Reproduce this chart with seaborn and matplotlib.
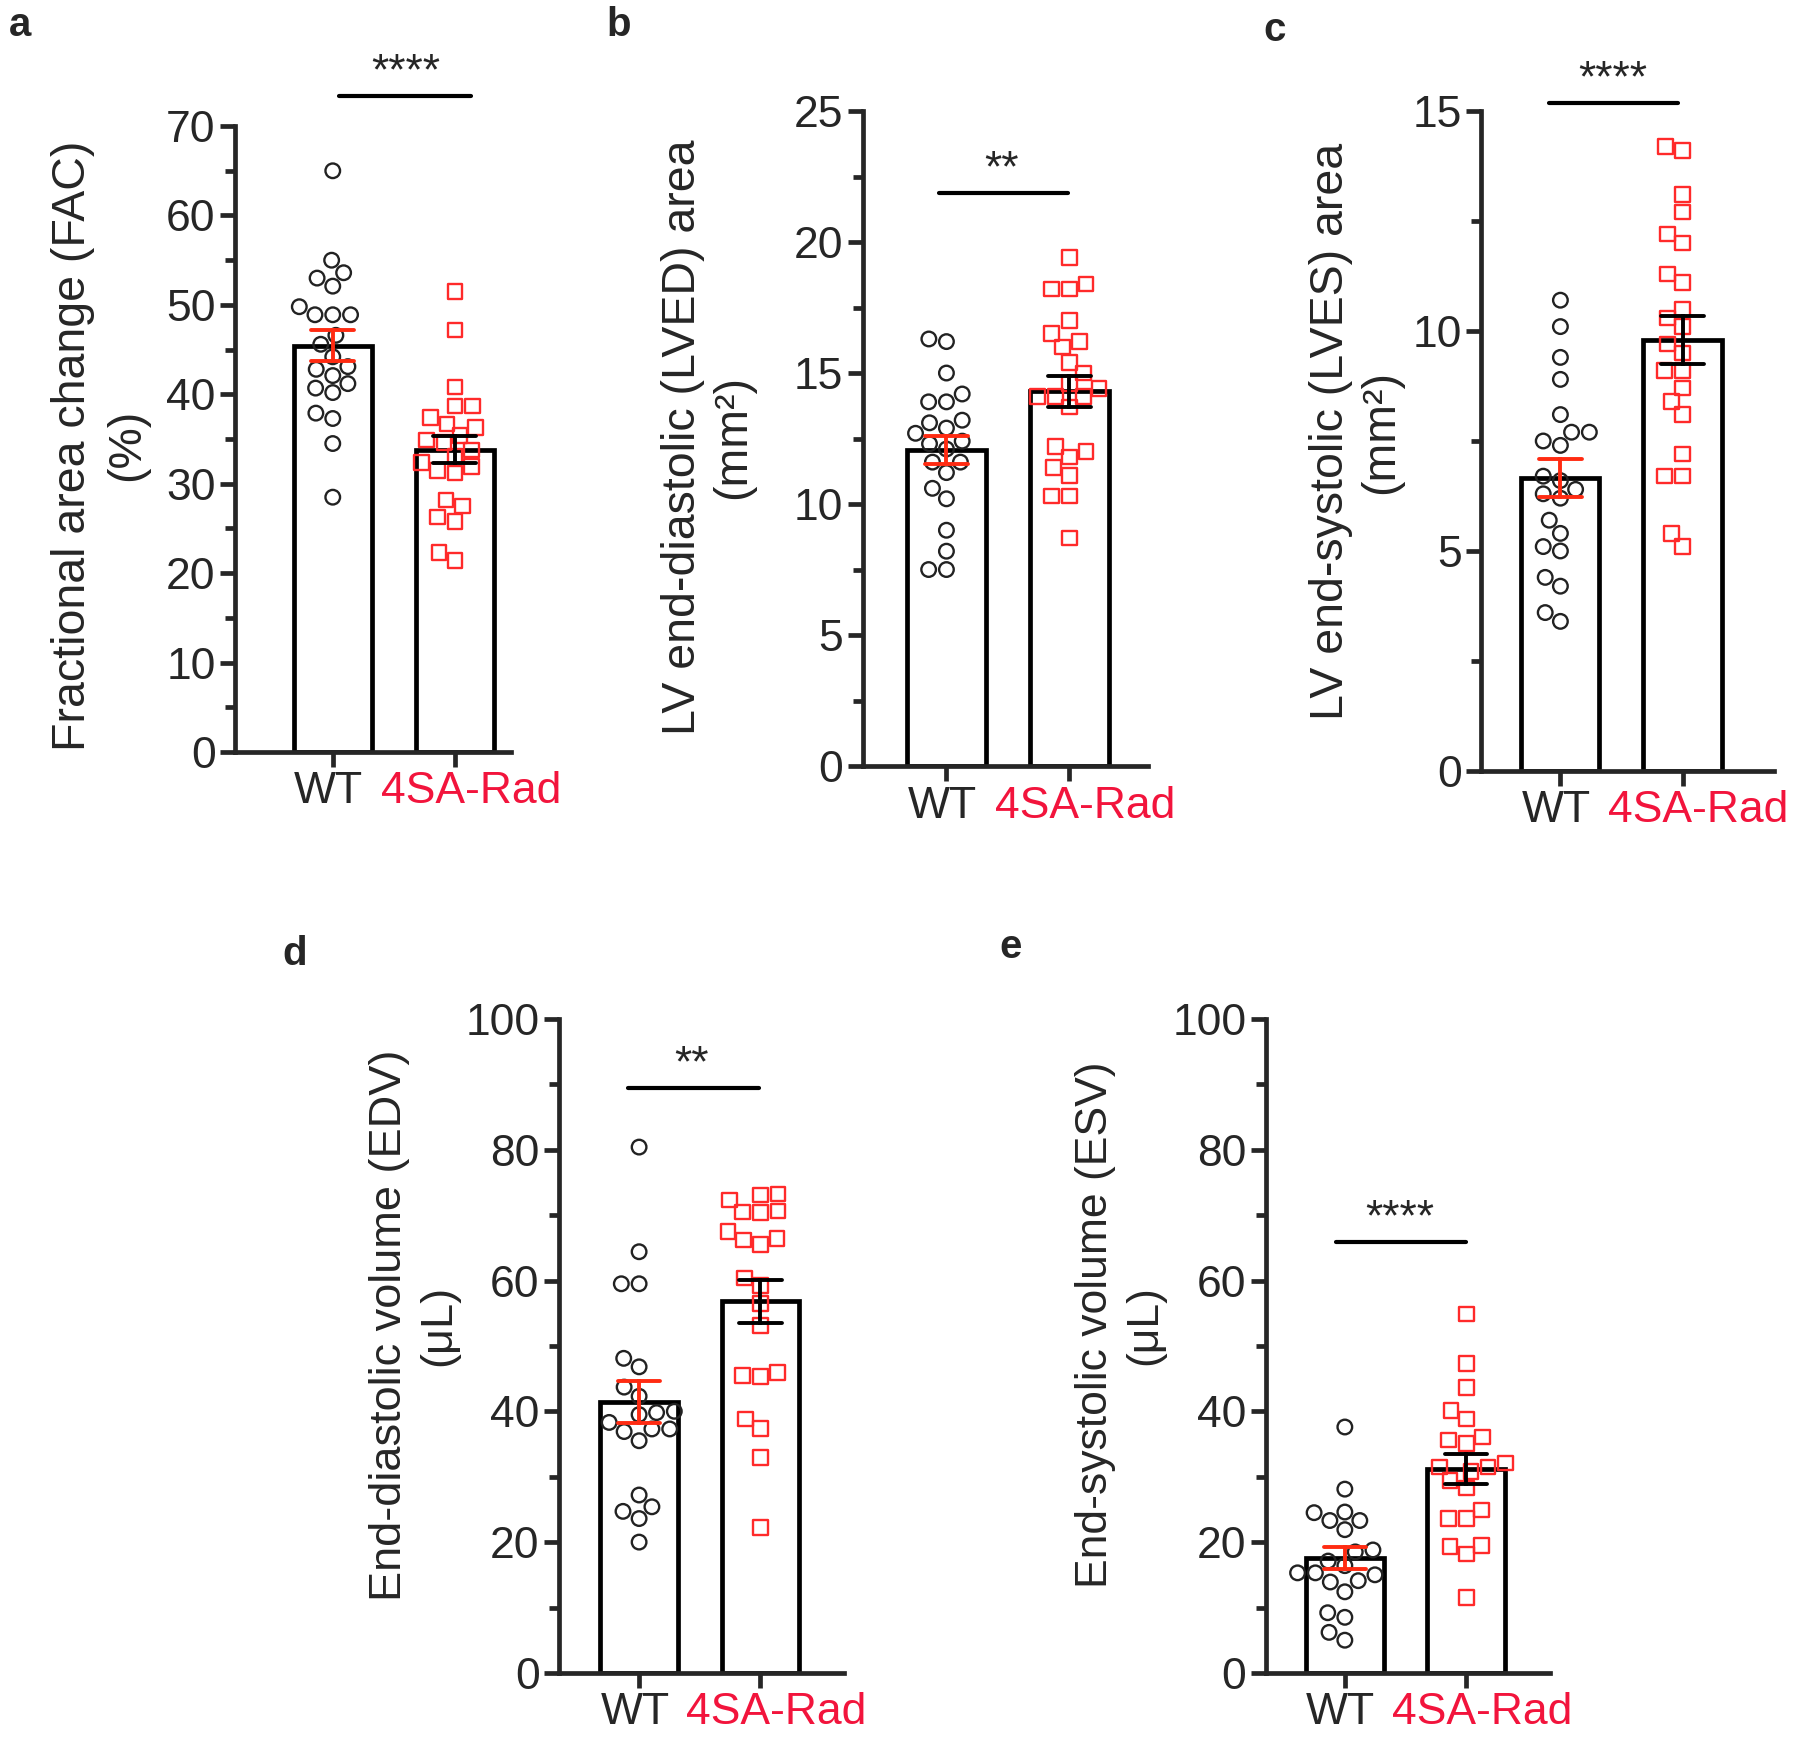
import pandas as pd
import seaborn as sns
import matplotlib.pyplot as plt
from matplotlib.ticker import MultipleLocator
from matplotlib.transforms import ScaledTranslation

groups = ["WT", "4SA-Rad"]

# values
fac_wt = [65.0, 55.0, 53.6, 53.0, 52.1, 49.8, 48.9, 48.9, 48.9, 46.6, 45.6, 44.2,
          43.1, 42.8, 42.1, 41.2, 40.7, 40.2, 37.9, 37.3, 34.5, 28.5]
fac_rad = [51.5, 47.2, 40.8, 38.7, 38.7, 37.4, 36.7, 36.3, 35.4, 34.9, 34.6, 33.8,
           33.1, 32.4, 31.9, 31.5, 31.2, 28.2, 27.5, 26.3, 25.8, 22.3, 21.4]

lved_wt = [16.3, 16.2, 15.0, 14.2, 13.9, 13.9, 13.2, 13.1, 12.9, 12.7, 12.4, 12.3,
           12.1, 11.6, 11.6, 11.2, 10.6, 10.2, 9.0, 8.2, 7.5, 7.5]
lved_rad = [19.4, 18.4, 18.2, 18.2, 17.0, 16.5, 16.2, 16.0, 15.4, 15.0, 14.6, 14.4,
            14.1, 14.1, 14.1, 13.7, 12.2, 12.0, 11.8, 11.4, 11.1, 10.3, 10.3, 8.7]

lves_wt = [10.7, 10.1, 9.4, 8.9, 8.1, 7.7, 7.7, 7.5, 7.4, 6.7, 6.6, 6.4, 6.3, 6.2,
           5.7, 5.4, 5.1, 5.0, 4.4, 4.2, 3.6, 3.4]
lves_rad = [14.2, 14.1, 13.1, 12.7, 12.2, 12.0, 11.3, 11.1, 10.5, 10.3, 10.1, 9.7,
            9.5, 9.1, 9.1, 8.7, 8.4, 8.1, 7.2, 6.7, 6.7, 5.4, 5.1]

edv_wt = [80.4, 64.4, 59.5, 59.5, 48.1, 46.8, 43.7, 42.3, 40.0, 39.8, 39.5, 38.3,
          37.3, 37.3, 36.9, 35.5, 27.2, 25.4, 24.7, 23.6, 20.0]
edv_rad = [73.2, 73.1, 72.3, 70.6, 70.5, 70.4, 67.5, 66.4, 66.2, 65.5, 60.4, 59.2,
           56.5, 53.1, 45.9, 45.5, 45.3, 38.8, 37.4, 32.9, 22.2]

esv_wt = [37.6, 28.1, 24.6, 24.5, 23.3, 23.3, 21.9, 18.8, 18.5, 17.1, 16.4, 15.3,
          15.3, 15.0, 14.1, 13.9, 12.4, 9.2, 8.5, 6.2, 5.0]
esv_rad = [54.9, 47.3, 43.6, 40.1, 38.8, 36.1, 35.6, 35.1, 32.1, 31.5, 31.5, 30.8,
           29.4, 28.3, 24.9, 23.6, 23.6, 19.5, 19.3, 18.2, 11.5]

RED = "#ff2a2a"
LABEL_RED = "#f2143c"
ERR_RED = "#ff2b12"

panels = [
    dict(letter="a", wt=fac_wt, rad=fac_rad,
         ylabel="Fractional area change (FAC)\n(%)", label_size=33.5, spacing=1.3,
         ymax=70, major=10, minor=5, stars="****",
         line=(0.05, 1.13, 73.4), star_x=0.6,
         rect=[0.1306, 0.5705, 0.1533, 0.3575], xlim=(-0.8, 1.46),
         label_xy=(-0.49, 0.49), letter_xy=(0.005, 0.986)),
    dict(letter="b", wt=lved_wt, rad=lved_rad,
         ylabel="LV end-diastolic (LVED) area\n(mm\u00b2)", label_size=33.5, spacing=1.2,
         ymax=25, major=5, minor=2.5, stars="**",
         line=(-0.06, 0.99, 21.87), star_x=0.45,
         rect=[0.4794, 0.5625, 0.1583, 0.3741], xlim=(-0.68, 1.64),
         label_xy=(-0.544, 0.502), letter_xy=(0.337, 0.986)),
    dict(letter="c", wt=lves_wt, rad=lves_rad,
         ylabel="LV end-systolic (LVES) area\n(mm\u00b2)", label_size=33.5, spacing=1.2,
         ymax=15, major=5, minor=2.5, stars="****",
         line=(-0.09, 0.96, 15.18), star_x=0.43,
         rect=[0.8228, 0.5597, 0.1628, 0.3769], xlim=(-0.65, 1.75),
         label_xy=(-0.427, 0.514), letter_xy=(0.702, 0.983)),
    dict(letter="d", wt=edv_wt, rad=edv_rad,
         ylabel="End-diastolic volume (EDV)\n(\u03bcL)", label_size=32.5, spacing=1.25,
         ymax=100, major=20, minor=10, stars="**",
         line=(-0.09, 0.99, 89.4), star_x=0.43,
         rect=[0.3106, 0.0446, 0.1583, 0.3735], xlim=(-0.66, 1.69),
         label_xy=(-0.509, 0.532), letter_xy=(0.157, 0.455)),
    dict(letter="e", wt=esv_wt, rad=esv_rad,
         ylabel="End-systolic volume (ESV)\n(\u03bcL)", label_size=32, spacing=1.25,
         ymax=100, major=20, minor=10, stars="****",
         line=(-0.07, 1.0, 65.9), star_x=0.45,
         rect=[0.7033, 0.0446, 0.1578, 0.3735], xlim=(-0.65, 1.69),
         label_xy=(-0.514, 0.532), letter_xy=(0.555, 0.459)),
]


def draw_panel(fig, p):
    ax = fig.add_axes(p["rect"])
    df = pd.DataFrame({
        "group": ["WT"] * len(p["wt"]) + ["4SA-Rad"] * len(p["rad"]),
        "value": p["wt"] + p["rad"],
    })

    sns.barplot(data=df, x="group", y="value", order=groups, errorbar="se",
                capsize=0.35, width=0.64, color="white", saturation=1,
                edgecolor="black", linewidth=3.4, ax=ax,
                err_kws={"linewidth": 2.8, "color": "black"})
    ax.lines[0].set_color(ERR_RED)
    for ln in ax.lines:
        ln.set_zorder(6)

    for grp, marker, col in zip(groups, ["o", "s"], ["#222222", RED]):
        n_before = len(ax.collections)
        sns.swarmplot(data=df[df["group"] == grp], x="group", y="value",
                      order=groups, marker=marker, size=10.5, ax=ax)
        for pts in ax.collections[n_before:]:
            pts.set_facecolor("none")
            pts.set_edgecolor(col)
            pts.set_linewidth(1.7)
            pts.set_zorder(4)

    x0, x1, yl = p["line"]
    ax.plot([x0, x1], [yl, yl], color="black", lw=3, clip_on=False)
    ax.annotate(p["stars"], xy=(p["star_x"], yl), xytext=(0, 2),
                textcoords="offset points", ha="center", va="bottom",
                fontsize=32, annotation_clip=False)

    ax.set_xlim(*p["xlim"])
    ax.set_ylim(0, p["ymax"])
    ax.yaxis.set_major_locator(MultipleLocator(p["major"]))
    ax.yaxis.set_minor_locator(MultipleLocator(p["minor"]))
    sns.despine(ax=ax)
    for side in ["left", "bottom"]:
        ax.spines[side].set_linewidth(3.4)
    ax.tick_params(which="major", length=11, width=3.4, labelsize=32, pad=3)
    ax.tick_params(axis="y", which="minor", length=7, width=3.4)
    ax.set_xlabel("")

    # group labels sit a little apart from each other, as in the source figure
    wt_lab, rad_lab = ax.get_xticklabels()
    rad_lab.set_color(LABEL_RED)
    wt_lab.set_transform(wt_lab.get_transform()
                         + ScaledTranslation(-0.04, 0, fig.dpi_scale_trans))
    rad_lab.set_transform(rad_lab.get_transform()
                          + ScaledTranslation(0.16, 0, fig.dpi_scale_trans))

    ax.set_ylabel(p["ylabel"], fontsize=p["label_size"], linespacing=p["spacing"],
                  ha="center", va="center")
    ax.yaxis.set_label_coords(*p["label_xy"])

    fig.text(p["letter_xy"][0], p["letter_xy"][1], p["letter"],
             fontsize=29, fontweight="bold", ha="left", va="center")
    return ax


def main():
    sns.set_theme(style="ticks")
    plt.rcParams["font.family"] = ["Liberation Sans", "DejaVu Sans"]

    fig = plt.figure(figsize=(18, 17.51), dpi=100)
    for p in panels:
        draw_panel(fig, p)

    fig.savefig("out.png", dpi=100, facecolor="white")
    plt.close(fig)


if __name__ == "__main__":
    main()
